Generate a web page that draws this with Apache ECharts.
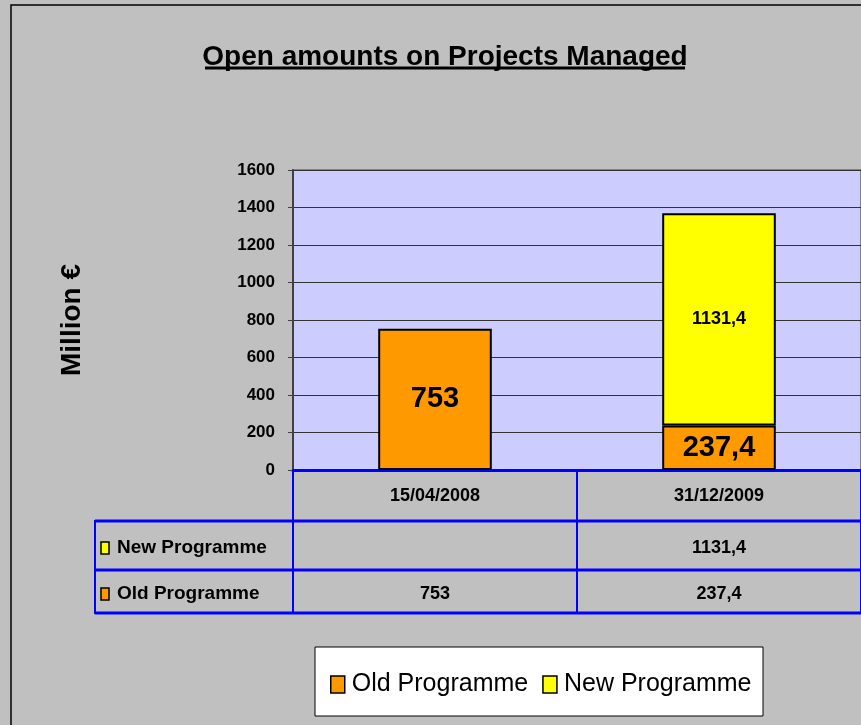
<!DOCTYPE html>
<html lang="en">
<head>
    <meta charset="UTF-8">
    <title>Open amounts on Projects Managed</title>
    <script src="https://cdn.jsdelivr.net/npm/echarts@6/dist/echarts.min.js"></script>
</head>
<body style="margin:0;background:#c0c0c0;">
<div id="main" style="width:861px;height:725px;"></div>
<script type="text/javascript">
    // data
    var categories = ['15/04/2008', '31/12/2009'];
    var seriesNames = ['Old Programme', 'New Programme'];
    var oldProgramme = [753, 237.4];
    var newProgramme = [null, 1131.4];
    var yMin = 0, yMax = 1600, yStep = 200;

    var arial = "'Liberation Sans', Arial, sans-serif";
    var colors = ['#ff9900', '#ffff00'];
    var blue = '#0000ff';

    // decimal comma like the original
    function fmt(v) {
        return v == null ? '' : String(v).replace('.', ',');
    }

    var chart = echarts.init(document.getElementById('main'));

    var grid = {left: 293, top: 170, width: 571, height: 300};

    var option = {
        backgroundColor: '#c0c0c0',
        animation: false,
        color: colors,
        title: {
            text: 'Open amounts on Projects Managed',
            left: 440,
            textAlign: 'center',
            top: 38,
            textStyle: {fontFamily: arial, fontSize: 28, fontWeight: 'bold', color: '#000'}
        },
        legend: {
            data: seriesNames,
            left: 325,
            top: 667,
            icon: 'rect',
            itemWidth: 14,
            itemHeight: 17,
            itemGap: 14,
            itemStyle: {borderColor: '#000', borderWidth: 1.5},
            textStyle: {fontFamily: arial, fontSize: 25, color: '#000', padding: [0, 0, 0, 2]}
        },
        grid: {
            left: grid.left, top: grid.top, width: grid.width, height: grid.height,
            show: true,
            backgroundColor: '#ccccff',
            borderColor: '#808080',
            borderWidth: 2
        },
        xAxis: {
            type: 'category',
            data: categories,
            axisLine: {lineStyle: {color: blue, width: 3}},
            axisTick: {show: true, length: 143, lineStyle: {color: blue, width: 2}},
            axisLabel: {
                margin: 17,
                fontFamily: arial, fontSize: 18, fontWeight: 'bold', color: '#000'
            }
        },
        yAxis: {
            type: 'value',
            min: yMin,
            max: yMax,
            interval: yStep,
            name: 'Million €',
            nameLocation: 'middle',
            nameGap: 207,
            nameRotate: 90,
            nameTextStyle: {fontFamily: arial, fontSize: 28, fontWeight: 'bold', color: '#000'},
            axisLine: {show: true, lineStyle: {color: '#404040', width: 2}},
            axisTick: {show: true, length: 5, lineStyle: {color: '#404040'}},
            axisLabel: {
                margin: 18,
                formatter: function (v) { return String(v); },
                fontFamily: arial, fontSize: 17, fontWeight: 'bold', color: '#000'
            },
            splitLine: {lineStyle: {color: '#333', width: 1}}
        },
        series: [
            {
                name: seriesNames[0],
                type: 'bar',
                stack: 'total',
                barWidth: '40%',
                data: oldProgramme,
                itemStyle: {color: colors[0], borderColor: '#000', borderWidth: 2},
                label: {
                    show: true,
                    position: 'inside',
                    formatter: function (p) { return fmt(p.value); },
                    fontFamily: arial, fontSize: 29, fontWeight: 'bold', color: '#000'
                }
            },
            {
                name: seriesNames[1],
                type: 'bar',
                stack: 'total',
                barWidth: '40%',
                data: newProgramme,
                itemStyle: {color: colors[1], borderColor: '#000', borderWidth: 2},
                label: {
                    show: true,
                    position: 'inside',
                    formatter: function (p) { return fmt(p.value); },
                    fontFamily: arial, fontSize: 18, fontWeight: 'bold', color: '#000'
                }
            }
        ]
    };
    chart.setOption(option);

    // data table under the axis, cell centres taken from the category axis
    var rows = [
        {name: seriesNames[1], values: newProgramme, color: colors[1], y: 548},
        {name: seriesNames[0], values: oldProgramme, color: colors[0], y: 594}
    ];
    var right = grid.left + grid.width;
    var g = [];
    // outer chart border
    g.push({type: 'rect', shape: {x: 11, y: 5, width: 900, height: 800},
        style: {fill: null, stroke: '#000', lineWidth: 1.5}, z: 0});
    // title underline
    g.push({type: 'line', shape: {x1: 205, y1: 68, x2: 685, y2: 68},
        style: {stroke: '#000', lineWidth: 3}});
    // table lines
    [521, 570, 613].forEach(function (y) {
        g.push({type: 'line', shape: {x1: 95, y1: y, x2: right, y2: y}, style: {stroke: blue, lineWidth: 3}, z: 10});
    });
    g.push({type: 'line', shape: {x1: 95, y1: 520, x2: 95, y2: 614}, style: {stroke: blue, lineWidth: 2}, z: 10});
    rows.forEach(function (r) {
        g.push({type: 'rect', shape: {x: 101, y: r.y - 6, width: 8, height: 12},
            style: {fill: r.color, stroke: '#000', lineWidth: 1.5}, z: 10});
        g.push({type: 'text', x: 117, y: r.y, style: {text: r.name, fontFamily: arial, fontSize: 19,
            fontWeight: 'bold', fill: '#000', textVerticalAlign: 'middle'}, z: 10});
        r.values.forEach(function (v, i) {
            var cx = chart.convertToPixel({xAxisIndex: 0}, categories[i]);
            g.push({type: 'text', x: cx, y: r.y, style: {text: fmt(v), fontFamily: arial, fontSize: 18,
                fontWeight: 'bold', fill: '#000', textAlign: 'center', textVerticalAlign: 'middle'}, z: 10});
        });
    });
    // legend box
    g.push({type: 'rect', shape: {x: 315, y: 647, width: 448, height: 69},
        style: {fill: '#fff', stroke: '#000', lineWidth: 1}, z: -1});
    chart.setOption({graphic: g});
</script>
</body>
</html>
